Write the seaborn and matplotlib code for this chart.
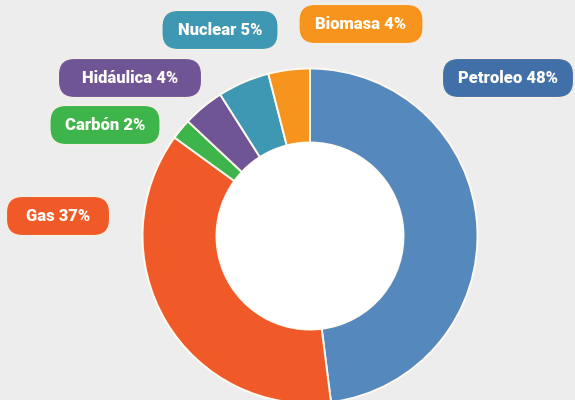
import matplotlib as mpl
mpl.use('agg')
import matplotlib.pyplot as plt
from matplotlib.patches import FancyBboxPatch, Circle
import seaborn as sns

sns.set_theme(style='white')
plt.rcParams['font.family'] = ['Roboto', 'DejaVu Sans']

# --- data (clockwise from 12 o'clock)
fuentes = ['Petroleo', 'Gas', 'Carbón', 'Hidáulica', 'Nuclear', 'Biomasa']
porcentajes = [48, 37, 2, 4, 5, 4]
colores = ['#5588bd', '#ef5a28', '#3db54a', '#6f5496', '#3e97b3', '#f7941e']
colores_etiqueta = ['#4170a9', '#ef5a28', '#3db54a', '#6f5496', '#3e97b3', '#f7941e']

# --- label boxes (pixel coords, y up): centre x, centre y, width
cajas = {
    'Petroleo': (508, 322, 131),
    'Gas': (58, 184, 103),
    'Carbón': (105, 275, 110),
    'Hidáulica': (130, 322, 143),
    'Nuclear': (220, 370, 116),
    'Biomasa': (361, 376, 124),
}
alto_caja = 39

fondo = '#ededed'
fig = plt.figure(figsize=(5.75, 4.0), dpi=100, facecolor=fondo)
ax = fig.add_axes([0, 0, 1, 1])
ax.set_facecolor(fondo)

centro = (310, 164)
r_ext = 167.5
r_int = 93.5

ax.pie(porcentajes,
       colors=colores,
       startangle=90,
       counterclock=False,
       center=centro,
       radius=r_ext,
       wedgeprops=dict(width=r_ext - r_int, edgecolor='#fffaf0', linewidth=1.4),
       frame=True)
ax.add_patch(Circle(centro, r_int, facecolor='white', edgecolor='none', zorder=5))

for nombre, valor, col in zip(fuentes, porcentajes, colores_etiqueta):
    cx, cy, w = cajas[nombre]
    caja = FancyBboxPatch((cx - w / 2, cy - alto_caja / 2), w, alto_caja,
                          boxstyle='round,pad=0,rounding_size=16',
                          facecolor=col, edgecolor='#f6efe4', linewidth=0.8,
                          zorder=6)
    ax.add_patch(caja)
    ax.text(cx, cy, f'{nombre} {valor}%', ha='center', va='center',
            color='#fffdf7', fontsize=12, fontweight='black', zorder=7)

ax.set_xlim(0, 575)
ax.set_ylim(0, 400)
ax.set_aspect('equal')
ax.axis('off')

plt.savefig('out.png', dpi=100, facecolor=fondo)
plt.close(fig)
